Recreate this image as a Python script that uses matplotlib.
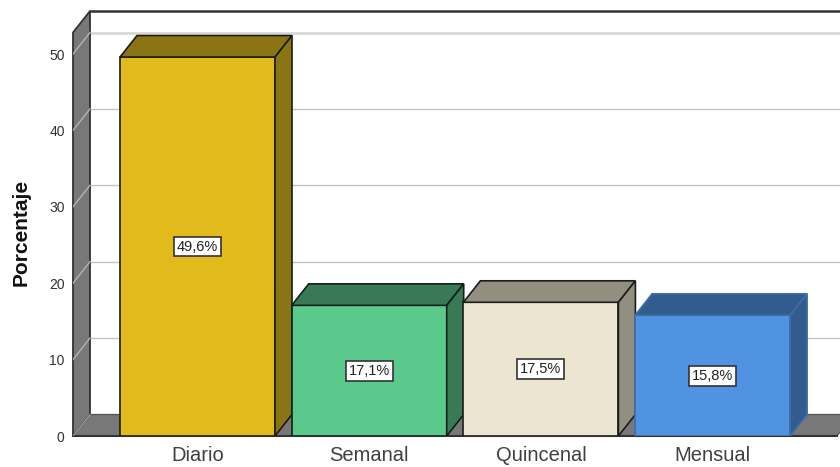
import matplotlib
matplotlib.use("Agg")
import matplotlib.pyplot as plt
from matplotlib.patches import Polygon

plt.rcParams['font.family'] = ['Liberation Sans', 'DejaVu Sans']

categorias = ['Diario', 'Semanal', 'Quincenal', 'Mensual']
porcentajes = [49.6, 17.1, 17.5, 15.8]
etiquetas = ['49,6%', '17,1%', '17,5%', '15,8%']
y_ticks = [0, 10, 20, 30, 40, 50]

color_frente = ['#E1BA1C', '#5BC98C', '#EBE5D1', '#5193E3']
color_lado = ['#8A7413', '#377A55', '#928E80', '#335C8E']
color_borde = ['#1c1c10', '#10201a', '#1c1c1c', '#3f6da6']

W, H = 840, 467
# escala en pixeles del grafico
px_x = 171.7
px_y = 7.64
left, right, bottom, top = 73, 840, 436, 11
x_centro0 = 197.5
ancho = 155 / px_x
dx = 17 / px_x
dy = 21.5 / px_y

fig = plt.figure(figsize=(W / 100, H / 100), dpi=100)
ax = fig.add_axes([left / W, 1 - bottom / H, (right - left) / W, (bottom - top) / H])
xmin = (left - x_centro0) / px_x
xmax = (right - x_centro0) / px_x
ymax = (bottom - top) / px_y
ax.set_xlim(xmin, xmax)
ax.set_ylim(0, ymax)

for s in ax.spines.values():
    s.set_visible(False)

# pared y piso
borde = '#333333'
ax.add_patch(Polygon([(xmin, 0), (xmin + dx, dy), (xmin + dx, ymax), (xmin, ymax - dy)],
                     closed=True, fc='#787878', ec=borde, lw=1.3, zorder=2, clip_on=False))
x_fin = (837 - x_centro0) / px_x
ax.add_patch(Polygon([(xmin, 0), (xmin + dx, dy), (x_fin + dx, dy), (x_fin, 0)],
                     closed=True, fc='#787878', ec='#555555', lw=0.9, zorder=2, clip_on=True))
ax.plot([xmin + dx, xmax], [ymax, ymax], color=borde, lw=1.8, zorder=2, clip_on=False)
ax.plot([xmin, x_fin], [0, 0], color=borde, lw=1.5, zorder=3, clip_on=False)

# lineas de rejilla
for t in y_ticks[1:]:
    lw = 2.0 if t == 50 else 1.0
    col = '#d8d8d8' if t == 50 else '#c4c4c4'
    ax.plot([xmin + dx, xmax], [t + dy, t + dy], color=col, lw=lw, zorder=1)
    ax.plot([xmin, xmin + dx], [t, t + dy], color='#b4b4b4', lw=1.0, zorder=3)
ax.plot([xmin, xmin + dx], [0, dy], color='#a0a0a0', lw=0.8, zorder=3)

# barras
for i, v in enumerate(porcentajes):
    x0 = i - ancho / 2
    x1 = i + ancho / 2
    ax.add_patch(Polygon([(x0, 0), (x1, 0), (x1, v), (x0, v)], closed=True,
                         fc=color_frente[i], ec=color_borde[i], lw=1.2, zorder=5 + i))
    ax.add_patch(Polygon([(x0, v), (x1, v), (x1 + dx, v + dy), (x0 + dx, v + dy)], closed=True,
                         fc=color_lado[i], ec=color_borde[i], lw=1.2, zorder=5 + i))
    ax.add_patch(Polygon([(x1, 0), (x1 + dx, dy), (x1 + dx, v + dy), (x1, v)], closed=True,
                         fc=color_lado[i], ec=color_borde[i], lw=1.2, zorder=5 + i))
    ax.text(i, v / 2, etiquetas[i], ha='center', va='center', fontsize=10.5, color='#222222', zorder=20,
            bbox=dict(boxstyle='square,pad=0.2', fc='white', ec='#333333', lw=1.2))

ax.set_xticks(range(len(categorias)))
ax.set_xticklabels(categorias, fontsize=14.5, color='#404040')
ax.set_yticks(y_ticks)
ax.set_yticklabels([str(t) for t in y_ticks], fontsize=10, color='#333333')
ax.tick_params(axis='both', length=0)
ax.tick_params(axis='x', pad=7.5)
ax.tick_params(axis='y', pad=6)
ax.set_ylabel('Porcentaje', fontsize=15, fontweight='bold', color='#111111')
ax.yaxis.set_label_coords(-0.0548, 0.478)

fig.savefig('out.png', dpi=100)
